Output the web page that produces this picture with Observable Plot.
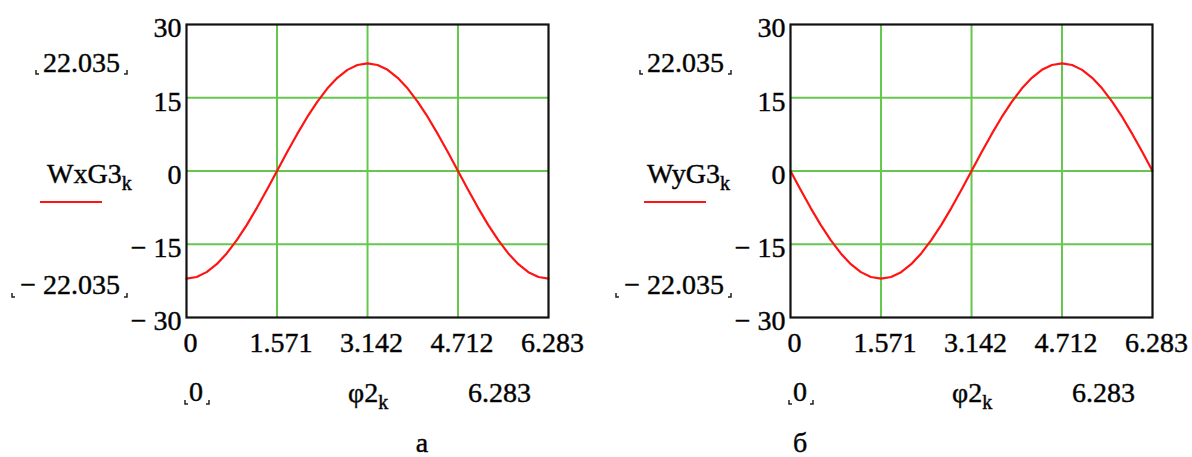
<!DOCTYPE html>
<html>
<head>
<meta charset="utf-8">
<script src="https://cdn.jsdelivr.net/npm/d3@7"></script>
<script src="https://cdn.jsdelivr.net/npm/@observablehq/plot@0.6"></script>
<style>
  html, body { margin: 0; padding: 0; background: #fff; }
  #wrap { position: relative; width: 1192px; height: 457px; overflow: hidden; background: #fff; }
  #wrap svg { position: absolute; top: 0; font-family: "Liberation Serif", "Tinos", "Times New Roman", "DejaVu Serif", serif; }
  #wrap svg text { font-family: "Liberation Serif", "Tinos", "Times New Roman", "DejaVu Serif", serif; stroke: #111; stroke-width: 0.45px; }
</style>
</head>
<body>
<div id="wrap"></div>
<script>
// ---- data ----
const phi = [0, 0.175, 0.349, 0.524, 0.698, 0.873, 1.047, 1.222, 1.396, 1.571,
  1.745, 1.920, 2.094, 2.269, 2.443, 2.618, 2.793, 2.967, 3.142,
  3.316, 3.491, 3.665, 3.840, 4.014, 4.189, 4.363, 4.538, 4.712,
  4.887, 5.061, 5.236, 5.411, 5.585, 5.760, 5.934, 6.109, 6.283];
const WxG3 = [-22.04, -21.70, -20.71, -19.08, -16.88, -14.16, -11.02, -7.54, -3.83, 0,
  3.83, 7.54, 11.02, 14.16, 16.88, 19.08, 20.71, 21.70, 22.04,
  21.70, 20.71, 19.08, 16.88, 14.16, 11.02, 7.54, 3.83, 0,
  -3.83, -7.54, -11.02, -14.16, -16.88, -19.08, -20.71, -21.70, -22.04];
const WyG3 = [0, -3.83, -7.54, -11.02, -14.16, -16.88, -19.08, -20.71, -21.70, -22.04,
  -21.70, -20.71, -19.08, -16.88, -14.16, -11.02, -7.54, -3.83, 0,
  3.83, 7.54, 11.02, 14.16, 16.88, 19.08, 20.71, 21.70, 22.04,
  21.70, 20.71, 19.08, 16.88, 14.16, 11.02, 7.54, 3.83, 0];
const xTicks = [0, 1.571, 3.142, 4.712, 6.283];
const xTickLabels = ["0", "1.571", "3.142", "4.712", "6.283"];
const yTicks = [-30, -15, 0, 15, 30];
const yTickLabels = ["\u2212 30", "\u2212 15", "0", "15", "30"];
const seriesNames = ["WxG3", "WyG3"];
const captions = ["а", "б"];
const limitMaxLabel = "22.035";
const limitMinLabel = "\u2212 22.035";
const xMinLabel = "0";
const xMaxLabel = "6.283";
const xName = "\u03C62";
const subscript = "k";

// ---- styling ----
const GREEN = "#66c74f";
const RED = "#ff1414";
const FONT = "\"Liberation Serif\", Tinos, \"Times New Roman\", \"DejaVu Serif\", serif";

const wrap = document.getElementById("wrap");

const panelCfg = [
  {left: 0, width: 604, nameX: 47, caption: {x: 422}},
  {left: 604, width: 588, nameX: 43, caption: {x: 196}}
];

function makePanel(values, name, caption, cfg) {
  const data = phi.map((p, i) => ({phi: p, w: values[i]}));
  const plot = Plot.plot({
    width: cfg.width,
    height: 457,
    marginLeft: 186,
    marginRight: cfg.width - 548,
    marginTop: 24,
    marginBottom: 140,
    x: {domain: [0, 6.283]},
    y: {domain: [-30, 30]},
    style: {fontFamily: FONT, fontSize: "28px", color: "#000", background: "transparent", overflow: "visible"},
    marks: [
      Plot.ruleX(xTicks.slice(1, -1), {stroke: GREEN, strokeWidth: 2}),
      Plot.ruleY(yTicks.slice(1, -1), {stroke: GREEN, strokeWidth: 2}),
      Plot.line(data, {x: "phi", y: "w", stroke: RED, strokeWidth: 2.2}),
      Plot.frame({stroke: "#111", strokeWidth: 2.2}),
      Plot.axisX(xTicks, {tickSize: 0, tickPadding: 15, dx: 4, label: null,
        tickFormat: d => xTickLabels[xTicks.indexOf(d)]}),
      Plot.axisY(yTicks, {tickSize: 0, tickPadding: 5, dy: 4, label: null,
        tickFormat: d => yTickLabels[yTicks.indexOf(d)]})
    ]
  });
  plot.style.left = cfg.left + "px";
  const svg = d3.select(plot);
  const g = svg.append("g").style("font-family", FONT).attr("fill", "#000");

  function text(x, y, str, anchor = "start", size = 28, sub = null) {
    const t = g.append("text").attr("x", x).attr("y", y)
      .attr("text-anchor", anchor).attr("font-size", size);
    t.append("tspan").text(str);
    if (sub) t.append("tspan").attr("font-size", 20).attr("dy", 7).text(sub);
    return t;
  }
  function brackets(x0, x1, y) {
    const p = `M${x0},${y - 4}V${y}H${x0 + 3}M${x1 - 3},${y}H${x1}V${y - 4}`;
    g.append("path").attr("d", p).attr("fill", "none").attr("stroke", "#222").attr("stroke-width", 1.5);
  }

  // upper/lower limits
  text(120, 72, limitMaxLabel, "end");
  brackets(36, 127, 74);
  text(120, 294, limitMinLabel, "end");
  brackets(12, 127, 297);
  // series name + legend line
  text(cfg.nameX, 183, name, "start", 28, subscript);
  g.append("line").attr("x1", 40).attr("x2", 102).attr("y1", 202).attr("y2", 202)
    .attr("stroke", RED).attr("stroke-width", 2);
  // x limits and name
  text(189, 401, xMinLabel, "start");
  brackets(185, 209, 404);
  text(348, 402, xName, "start", 28, subscript);
  text(468, 402, xMaxLabel, "start");
  // caption
  text(cfg.caption.x, 452, caption, "middle", 28);

  wrap.appendChild(plot);
}

makePanel(WxG3, seriesNames[0], captions[0], panelCfg[0]);
makePanel(WyG3, seriesNames[1], captions[1], panelCfg[1]);
</script>
</body>
</html>
